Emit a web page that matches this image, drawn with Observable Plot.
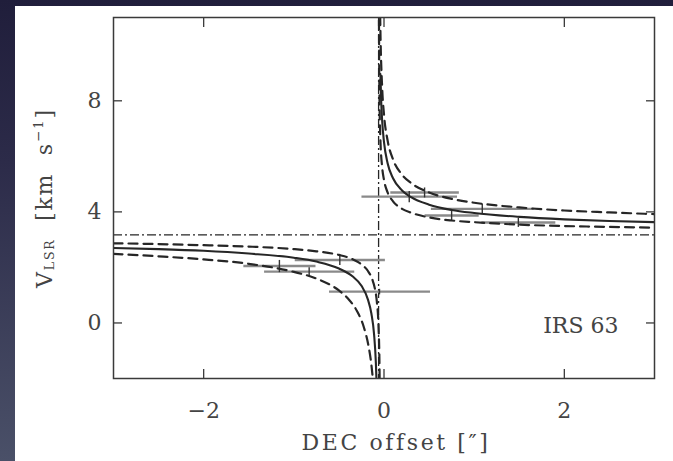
<!DOCTYPE html>
<html><head><meta charset="utf-8">
<script src="https://cdn.jsdelivr.net/npm/d3@7"></script>
<script src="https://cdn.jsdelivr.net/npm/@observablehq/plot@0.6"></script>
<style>
html,body{margin:0;padding:0;width:673px;height:461px;overflow:hidden;}
body{background:linear-gradient(180deg,#201e3b 0%,#2c2b49 35%,#4a5068 100%);position:relative;}
#panel{position:absolute;left:15px;top:6px;right:0;bottom:0;background:#fff;}
#chart{position:absolute;left:0;top:0;}
</style></head><body><div id="panel"></div><div id="chart"></div>
<script>
// axis ticks
const xTicks = [-2, 0, 2];
const yTicks = [0, 4, 8];
const xDomain = [-3, 3];
const yDomain = [-2, 11];

// reference lines (dash-dot)
const centerOffset = [-0.06];
const systemicV = [3.17];

// model curves: x offsets and velocities
const rightSolidX = [-0.04, -0.03, -0.02, 0.0, 0.04, 0.1, 0.2, 0.3, 0.5, 0.75, 1.0, 1.5, 2.0, 2.5, 3.0];
const rightSolidV = [8.96, 7.89, 7.26, 6.51, 5.75, 5.21, 4.77, 4.53, 4.26, 4.07, 3.96, 3.82, 3.73, 3.67, 3.63];
const rightUpperX = [-0.045, -0.04, -0.02, 0.0, 0.04, 0.1, 0.2, 0.3, 0.5, 0.75, 1.0, 1.5, 2.0, 2.5, 3.0];
const rightUpperV = [11.6, 10.55, 8.44, 7.5, 6.57, 5.89, 5.34, 5.04, 4.7, 4.47, 4.33, 4.16, 4.05, 3.98, 3.92];
const rightLowerX = [-0.056, -0.05, -0.04, -0.02, 0.0, 0.04, 0.1, 0.2, 0.3, 0.5, 0.75, 1.0, 1.5, 2.0, 2.5, 3.0];
const rightLowerV = [10.9, 8.05, 6.61, 5.6, 5.15, 4.7, 4.38, 4.11, 3.97, 3.8, 3.69, 3.63, 3.54, 3.49, 3.46, 3.43];

const leftSolidX = [-3.0, -2.5, -2.0, -1.5, -1.0, -0.75, -0.5, -0.35, -0.25, -0.18, -0.14, -0.11, -0.09, -0.084];
const leftSolidV = [2.70, 2.66, 2.60, 2.50, 2.35, 2.21, 1.96, 1.68, 1.34, 0.86, 0.34, -0.41, -1.45, -2.0];
const leftUpperX = [-3.0, -2.5, -2.0, -1.5, -1.0, -0.75, -0.5, -0.35, -0.25, -0.18, -0.13, -0.1, -0.08, -0.06, -0.05, -0.0485];
const leftUpperV = [2.87, 2.84, 2.80, 2.75, 2.66, 2.58, 2.45, 2.30, 2.11, 1.88, 1.57, 1.22, 0.79, -0.18, -1.56, -2.0];
const leftLowerX = [-3.0, -2.5, -2.0, -1.5, -1.0, -0.75, -0.5, -0.4, -0.3, -0.22, -0.17, -0.14, -0.124];
const leftLowerV = [2.49, 2.40, 2.29, 2.13, 1.84, 1.60, 1.17, 0.88, 0.43, -0.19, -0.86, -1.50, -2.0];

// measured points with error bars
const ptX  = [0.45, 0.28, 1.09, 0.75, 1.49, -0.49, -1.16, -0.83, -0.05];
const ptV  = [4.70, 4.55, 4.11, 3.87, 3.62, 2.27, 2.05, 1.85, 1.13];
const ptDX = [0.38, 0.53, 0.57, 0.30, 0.41, 0.50, 0.40, 0.50, 0.56];
const ptDV = [0.18, 0.20, 0.18, 0.20, 0.16, 0.18, 0.22, 0.16, 0.10];

const label = "IRS 63";

const zip = (xs, vs, key) => xs.map((x, i) => ({x, v: vs[i], key}));
const solid = [...zip(rightSolidX, rightSolidV, "r"), ...zip(leftSolidX, leftSolidV, "l")];
const dashed = [
  ...zip(rightUpperX, rightUpperV, "ru"), ...zip(rightLowerX, rightLowerV, "rl"),
  ...zip(leftUpperX, leftUpperV, "lu"), ...zip(leftLowerX, leftLowerV, "ll")
];
const pts = ptX.map((x, i) => ({x, v: ptV[i], dx: ptDX[i], dv: ptDV[i]}));

const ink = "#262626";
const chart = Plot.plot({
  width: 673, height: 461,
  marginLeft: 113, marginRight: 19, marginTop: 17, marginBottom: 83,
  style: {fontFamily: "DejaVu Serif", fontSize: "22px", color: "#444", background: "transparent", overflow: "visible"},
  x: {domain: xDomain},
  y: {domain: yDomain},
  marks: [
    Plot.ruleY(systemicV, {stroke: ink, strokeWidth: 1.3, strokeDasharray: "9,3,2,3"}),
    Plot.ruleX(centerOffset, {stroke: ink, strokeWidth: 1.3, strokeDasharray: "9,3,2,3"}),
    Plot.link(pts, {x1: d => d.x - d.dx, x2: d => d.x + d.dx, y1: "v", y2: "v", stroke: "#8a8a8a", strokeWidth: 2.4}),
    Plot.link(pts, {x1: "x", x2: "x", y1: d => d.v - d.dv, y2: d => d.v + d.dv, stroke: "#333", strokeWidth: 1.4}),
    Plot.line(dashed, {x: "x", y: "v", z: "key", stroke: ink, strokeWidth: 2.2, strokeDasharray: "9,6", curve: "monotone-x", clip: true}),
    Plot.line(solid, {x: "x", y: "v", z: "key", stroke: ink, strokeWidth: 2.1, curve: "monotone-x", clip: true}),
    Plot.text([label], {frameAnchor: "bottom-right", dx: -36, dy: -46, textAnchor: "end", lineAnchor: "bottom", fill: "#444", fontSize: 22, letterSpacing: 2.5}),
    Plot.frame({stroke: "#3a3a3a", strokeWidth: 1.5}),
    Plot.axisX({ticks: xTicks, anchor: "bottom", tickSize: -9, tickPadding: 33, stroke: "#3a3a3a", strokeWidth: 1.3, fill: "#444", label: null, tickFormat: d => d < 0 ? "\u2212" + Math.abs(d) : String(d)}),
    Plot.axisX({ticks: xTicks, anchor: "top", tickSize: -9, stroke: "#3a3a3a", strokeWidth: 1.3, fill: "none", label: null}),
    Plot.axisY({ticks: yTicks, anchor: "left", tickSize: -9, tickPadding: 21, stroke: "#3a3a3a", strokeWidth: 1.3, fill: "#444", label: null}),
    Plot.axisY({ticks: yTicks, anchor: "right", tickSize: -9, stroke: "#3a3a3a", strokeWidth: 1.3, fill: "none", label: null})
  ]
});
document.getElementById("chart").appendChild(chart);

// axis titles as real text with sub/superscripts
const svg = d3.select(chart);
svg.append("text")
  .attr("x", 396).attr("y", 450)
  .attr("text-anchor", "middle")
  .attr("fill", "#444").attr("font-family", "DejaVu Serif").attr("font-size", 22)
  .attr("letter-spacing", 2.6)
  .style("white-space", "pre")
  .text("DEC offset [\u2033]");

const yl = svg.append("text")
  .attr("transform", "translate(52,198) rotate(-90)")
  .attr("text-anchor", "middle")
  .attr("fill", "#444").attr("font-family", "DejaVu Serif").attr("font-size", 22)
  .attr("letter-spacing", 1.8)
  .style("white-space", "pre");
yl.append("tspan").text("V");
yl.append("tspan").attr("font-size", 12.5).attr("dy", 2).text("LSR");
yl.append("tspan").attr("dy", -2).text("  [km  s");
yl.append("tspan").attr("font-size", 13.5).attr("dy", -9).text("\u22121");
yl.append("tspan").attr("dy", 9).text("]");
</script></body></html>
